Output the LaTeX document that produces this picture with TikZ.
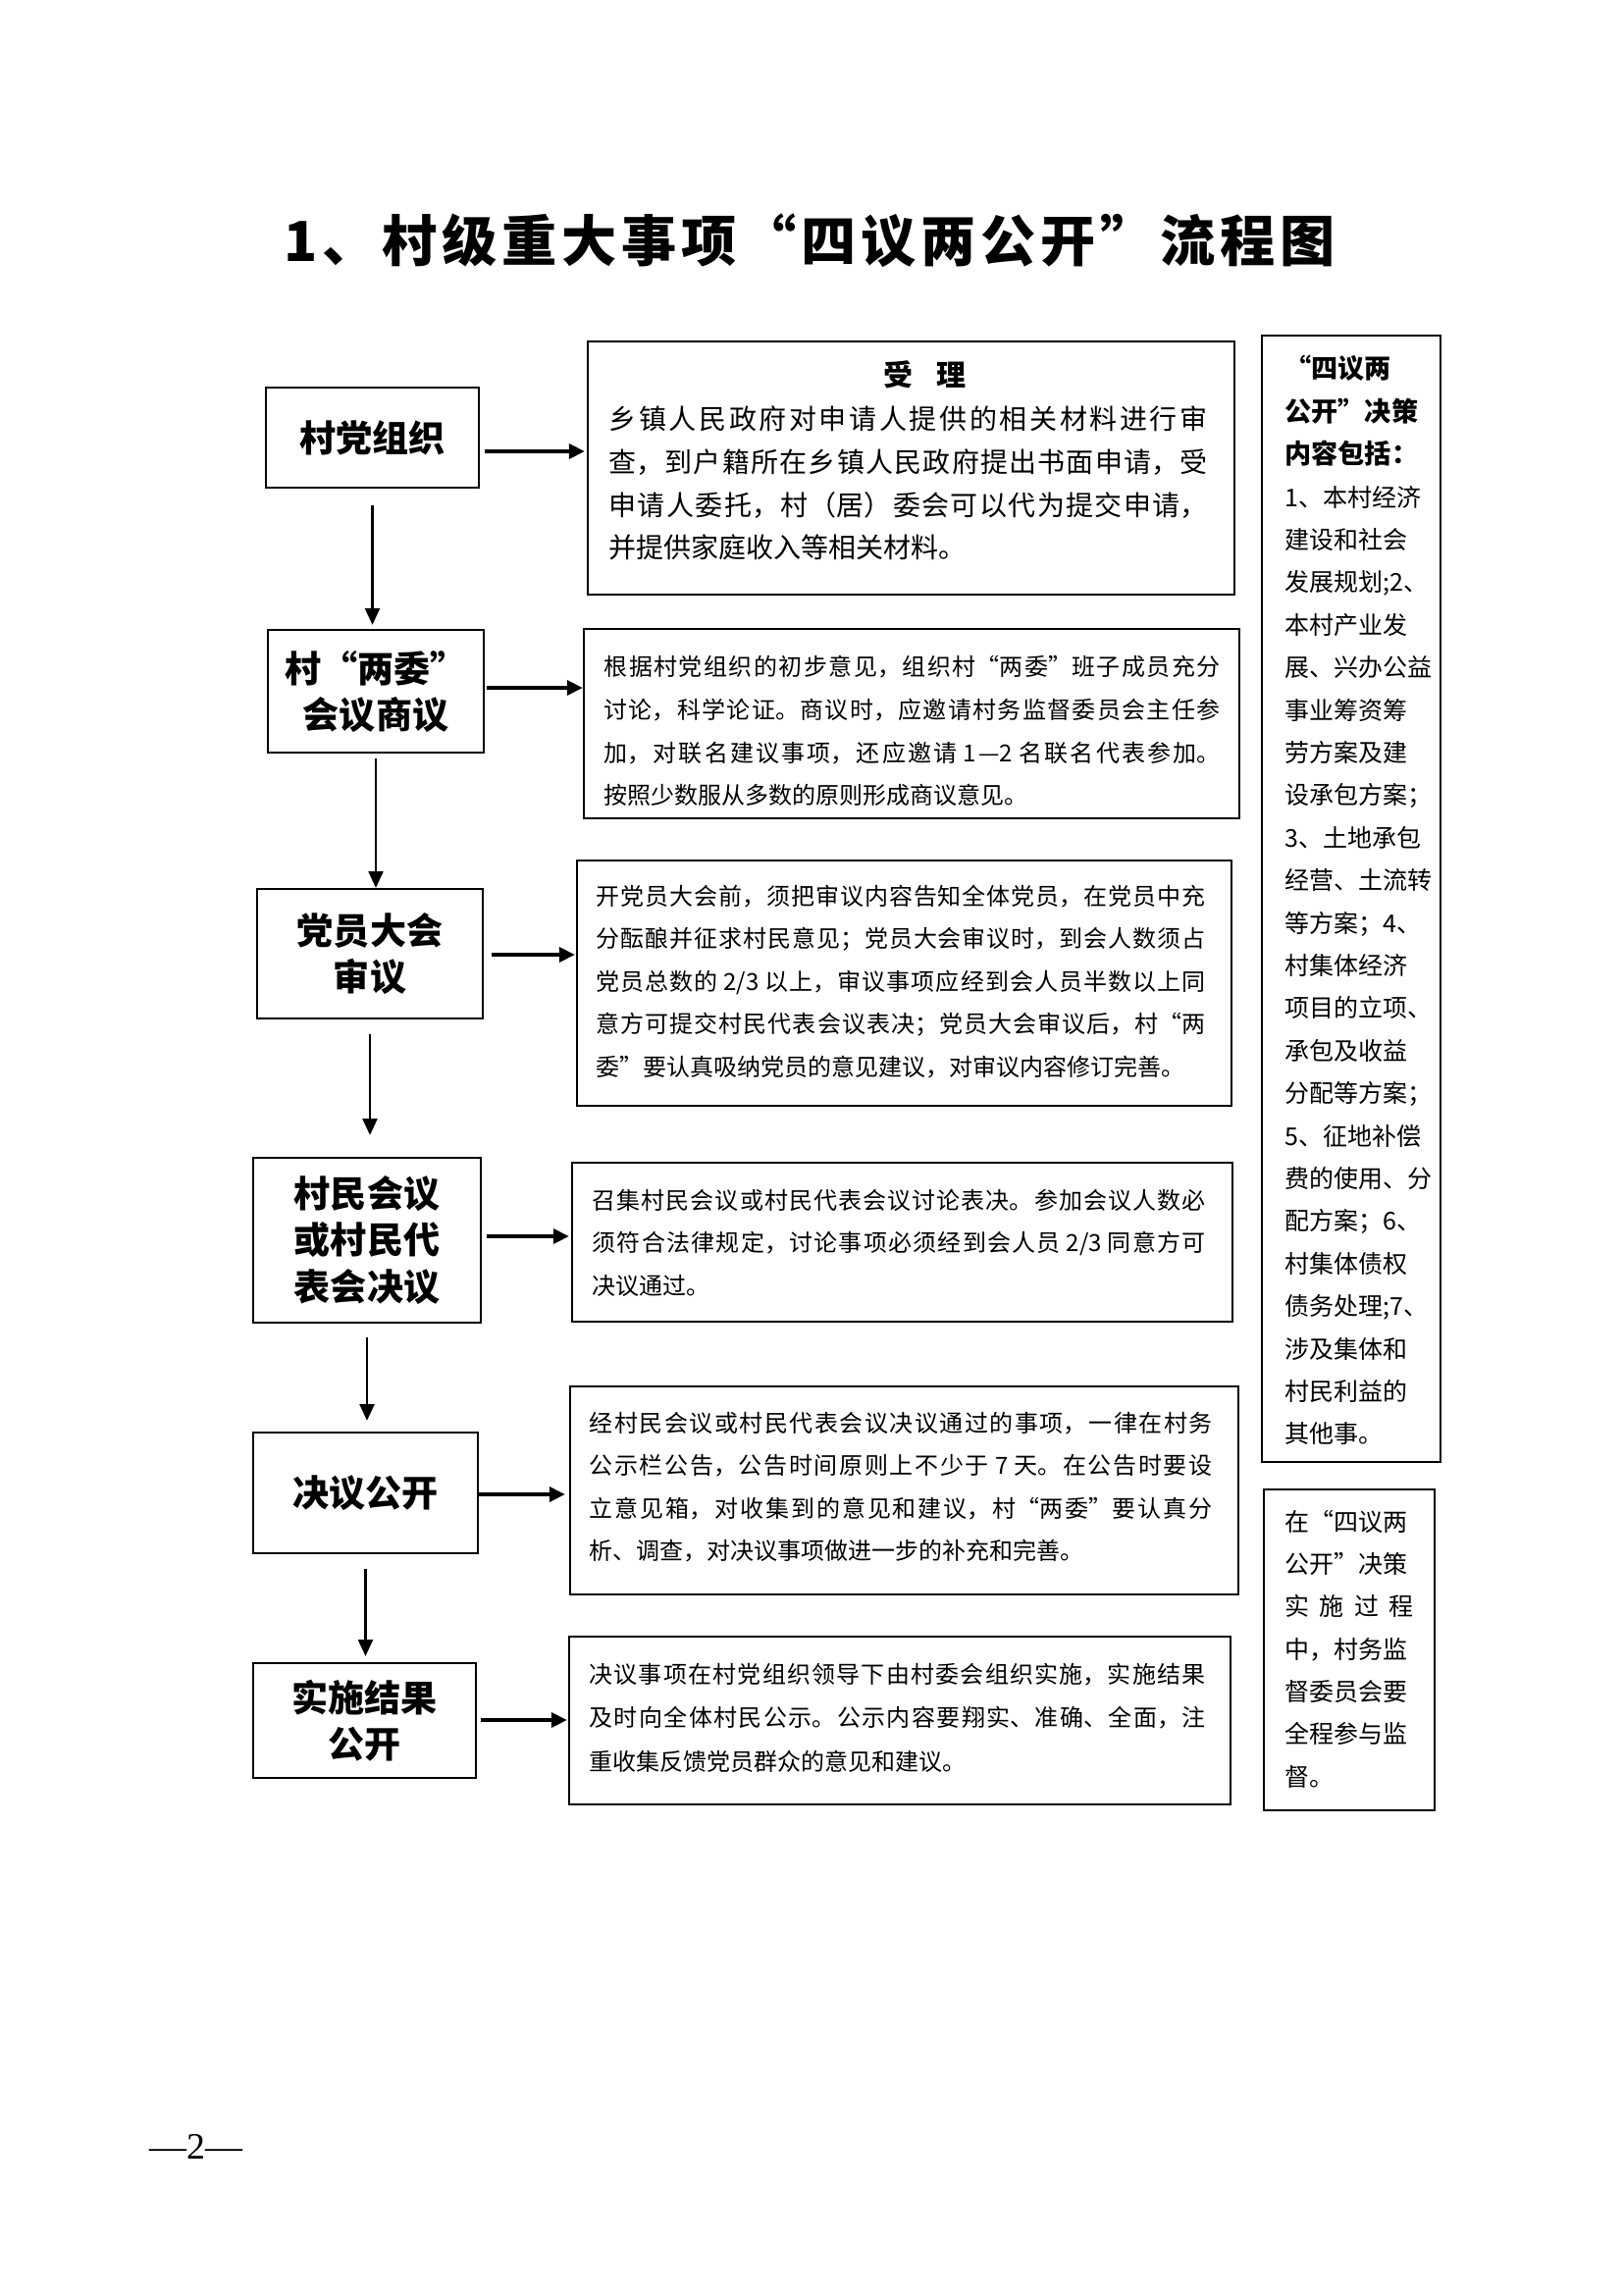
\documentclass[tikz,border=0pt]{standalone}
\usepackage{fontspec}
\setmainfont{Noto Sans CJK SC}
\newfontfamily\pagenumfont{Liberation Serif}
\usetikzlibrary{arrows.meta}
\XeTeXlinebreaklocale "zh"
\XeTeXlinebreakskip=0pt plus 2pt
\tolerance=9999
\newdimen\pxu \pxu=0.127mm
\newcommand{\qo}{\makebox[1em][r]{“}}
\newcommand{\qc}{\makebox[1em][l]{”}}
\begin{document}
\begin{tikzpicture}[x={(0.127mm,0mm)},y={(0mm,-0.127mm)},
  boxline/.style={draw, line width=0.8pt, inner sep=0pt},
  lbl/.style={boxline, align=center, font=\bfseries\fontsize{13.4pt}{17pt}\selectfont},
  body/.style={anchor=base west, inner sep=0pt, align=justify, font=\fontsize{8.67pt}{15.72pt}\selectfont},
  side/.style={anchor=base west, inner sep=0pt, align=left, font=\fontsize{9.03pt}{15.68pt}\selectfont},
  varrow/.style={line width=0.9pt, -{Triangle[length=6.1pt,width=5.4pt]}},
  harrow/.style={line width=1.3pt, -{Triangle[length=5.8pt,width=5.4pt]}}]
\useasboundingbox (0,0) rectangle (1654,2339);
% title
\node[inner sep=0pt, font=\bfseries\fontsize{20.3pt}{24pt}\selectfont] (ttl) at (825,245)
  {\makebox[1071\pxu][s]{1\hfil 、\hfil 村\hfil 级\hfil 重\hfil 大\hfil 事\hfil 项\hfil\qo\hfil 四\hfil 议\hfil 两\hfil 公\hfil 开\hfil\qc\hfil 流\hfil 程\hfil 图}};
% left boxes
\node[lbl, minimum width=217\pxu, minimum height=102\pxu] (b1) at (379.5,446) {村党组织};
\node[lbl, minimum width=220\pxu, minimum height=125\pxu] (b2) at (383,704.5) {村\qo 两委\qc\\会议商议};
\node[lbl, minimum width=230\pxu, minimum height=132\pxu] (b3) at (377,972) {党员大会\\审议};
\node[lbl, minimum width=232\pxu, minimum height=168\pxu] (b4) at (374,1264) {村民会议\\或村民代\\表会决议};
\node[lbl, minimum width=229\pxu, minimum height=123\pxu] (b5) at (372.5,1521.5) {决议公开};
\node[lbl, minimum width=227\pxu, minimum height=117\pxu] (b6) at (371.5,1753.5) {实施结果\\公开};
% right boxes
\node[boxline, minimum width=659\pxu, minimum height=258\pxu] (r1) at (928.5,477) {};
\node[boxline, minimum width=668\pxu, minimum height=193\pxu] (r2) at (929,737.5) {};
\node[boxline, minimum width=667\pxu, minimum height=250\pxu] (r3) at (921.5,1002) {};
\node[boxline, minimum width=673\pxu, minimum height=162\pxu] (r4) at (919.5,1266) {};
\node[boxline, minimum width=681\pxu, minimum height=212\pxu] (r5) at (921.5,1519) {};
\node[boxline, minimum width=674\pxu, minimum height=171\pxu] (r6) at (917,1753.5) {};
% side boxes
\node[boxline, minimum width=182\pxu, minimum height=1148\pxu] (s1) at (1377,916) {};
\node[boxline, minimum width=174\pxu, minimum height=327\pxu] (s2) at (1375,1681.5) {};
% texts in right boxes
\node[anchor=base, inner sep=0pt, font=\bfseries\fontsize{10.84pt}{13pt}\selectfont] (rt) at (942,394) {受\hspace{0.8em}理};
\node[body, text width=610\pxu, font=\fontsize{10.12pt}{15.72pt}\selectfont] (t1) at (620,438) {%
乡镇人民政府对申请人提供的相关材料进行审\linebreak
查，到户籍所在乡镇人民政府提出书面申请，受\linebreak
申请人委托，村（居）委会可以代为提交申请，\linebreak
并提供家庭收入等相关材料。};
\node[body, text width=628\pxu] (t2) at (615,689) {%
根据村党组织的初步意见，组织村\qo 两委\qc 班子成员充分\linebreak
讨论，科学论证。商议时，应邀请村务监督委员会主任参\linebreak
加，对联名建议事项，还应邀请 1—2 名联名代表参加。\linebreak
按照少数服从多数的原则形成商议意见。};
\node[body, text width=621\pxu] (t3) at (607,922) {%
开党员大会前，须把审议内容告知全体党员，在党员中充\linebreak
分酝酿并征求村民意见；党员大会审议时，到会人数须占\linebreak
党员总数的 2/3 以上，审议事项应经到会人员半数以上同\linebreak
意方可提交村民代表会议表决；党员大会审议后，村\qo 两\linebreak
委\qc 要认真吸纳党员的意见建议，对审议内容修订完善。};
\node[body, text width=625\pxu] (t4) at (603,1232) {%
召集村民会议或村民代表会议讨论表决。参加会议人数必\linebreak
须符合法律规定，讨论事项必须经到会人员 2/3 同意方可\linebreak
决议通过。};
\node[body, text width=635\pxu] (t5) at (600,1459) {%
经村民会议或村民代表会议决议通过的事项，一律在村务\linebreak
公示栏公告，公告时间原则上不少于 7 天。在公告时要设\linebreak
立意见箱，对收集到的意见和建议，村\qo 两委\qc 要认真分\linebreak
析、调查，对决议事项做进一步的补充和完善。};
\node[body, text width=628\pxu, font=\fontsize{8.67pt}{16.08pt}\selectfont] (t6) at (600,1715) {%
决议事项在村党组织领导下由村委会组织实施，实施结果\linebreak
及时向全体村民公示。公示内容要翔实、准确、全面，注\linebreak
重收集反馈党员群众的意见和建议。};
% side texts
\node[side, text width=200\pxu] (st1) at (1309,386) {%
{\bfseries\fontsize{9.8pt}{15.68pt}\selectfont \qo 四议两\\公开\qc 决策\\内容包括：}\\
1、本村经济\\建设和社会\\发展规划;2、\\本村产业发\\展、兴办公益\\事业筹资筹\\劳方案及建\\设承包方案；\\
3、土地承包\\经营、土流转\\等方案；4、\\村集体经济\\项目的立项、\\承包及收益\\分配等方案；\\
5、征地补偿\\费的使用、分\\配方案；6、\\村集体债权\\债务处理;7、\\涉及集体和\\村民利益的\\其他事。};
\node[side, text width=131\pxu] (st2) at (1309,1560) {%
在\qo 四议两\\公开\qc 决策\\\makebox[131\pxu][s]{实\hfil 施\hfil 过\hfil 程}\\中，村务监\\督委员会要\\全程参与监\\督。};
% page number
\node[inner sep=0pt, font=\pagenumfont\fontsize{13.7pt}{16pt}\selectfont] (pg) at (200,2188) {—2—};
% arrows
\coordinate (h1) at (0,460);
\coordinate (h2) at (0,701);
\coordinate (h3) at (0,973);
\coordinate (h4) at (0,1260);
\coordinate (h5) at (0,1523);
\coordinate (h6) at (0,1753);
\draw[varrow, shorten <=6.14pt, shorten >=1.45pt] (b1.south) -- (b1.south |- b2.north);
\draw[varrow, shorten <=1.8pt] (b2.south) -- (b2.south |- b3.north);
\draw[varrow, shorten <=5.4pt, shorten >=7.95pt] (b3.south) -- (b3.south |- b4.north);
\draw[varrow, shorten <=5.06pt, shorten >=3.98pt] (b4.south) -- (b4.south |- b5.north);
\draw[varrow, shorten <=5.4pt, shorten >=2.17pt] (b5.south) -- (b5.south |- b6.north);
\draw[harrow, shorten <=1.8pt, shorten >=0.72pt] (b1.east |- h1) -- (r1.west |- h1);
\draw[harrow, shorten <=0.72pt] (b2.east |- h2) -- (r2.west |- h2);
\draw[harrow, shorten <=2.9pt, shorten >=0.36pt] (b3.east |- h3) -- (r3.west |- h3);
\draw[harrow, shorten <=1.8pt, shorten >=0.72pt] (b4.east |- h4) -- (r4.west |- h4);
\draw[harrow, shorten >=1.45pt] (b5.east |- h5) -- (r5.west |- h5);
\draw[harrow, shorten <=1.45pt, shorten >=0.36pt] (b6.east |- h6) -- (r6.west |- h6);
\end{tikzpicture}
\end{document}
